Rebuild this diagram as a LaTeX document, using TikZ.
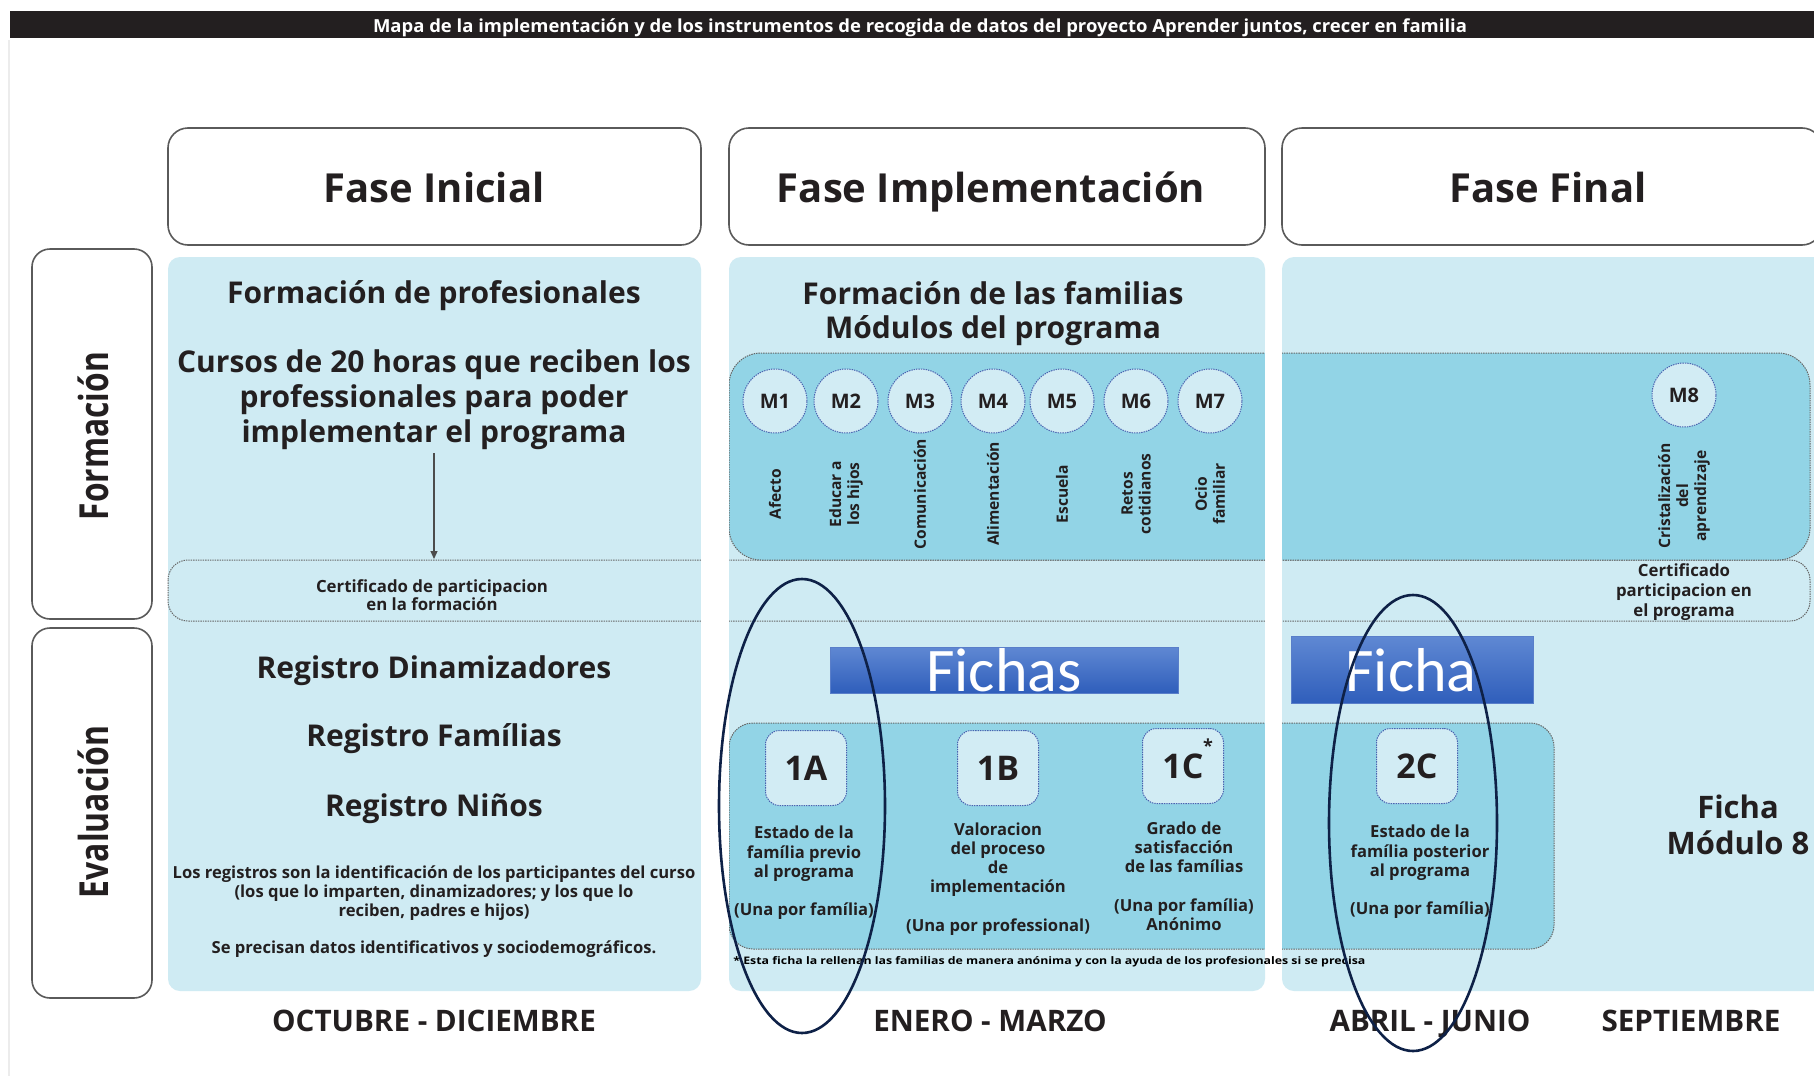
\documentclass[tikz,border=0pt]{standalone}
\usepackage{fontspec}
\setmainfont{Open Sans}
\newfontfamily\carlito{Carlito}
\usetikzlibrary{arrows.meta}
\definecolor{lightp}{HTML}{CFEBF3}
\definecolor{darkp}{HTML}{92D4E6}
\definecolor{circf}{HTML}{D2ECF4}
\definecolor{navy}{HTML}{0E2147}
\definecolor{txt}{HTML}{231F20}
\definecolor{fichatop}{HTML}{5F88D3}
\definecolor{fichabot}{HTML}{2F5EBB}
\definecolor{dotblue}{HTML}{4A63B0}
\definecolor{edgegray}{HTML}{5A5A5A}
\tikzset{
  phasebox/.style={draw=edgegray, line width=0.8pt, fill=white, rounded corners=10pt},
  panel/.style={fill=lightp, rounded corners=6pt},
  dotline/.style={draw=gray!80!black, line width=0.5pt, dash pattern=on 0.7pt off 0.5pt},
  modcirc/.style={circle, fill=circf, draw=dotblue, line width=0.5pt, dash pattern=on 0.7pt off 0.5pt, minimum size=32pt, inner sep=0pt, font=\bfseries\fontsize{10}{12}\selectfont, text=txt},
  fbox/.style={rectangle, rounded corners=7pt, fill=circf, draw=dotblue, line width=0.5pt, dash pattern=on 0.7pt off 0.5pt, minimum width=40.5pt, minimum height=37.5pt, inner sep=0pt, font=\bfseries\fontsize{17}{20}\selectfont, text=txt},
  vlab/.style={rotate=90, align=center, font=\bfseries\fontsize{7.8}{9}\selectfont, text=txt, inner sep=0pt},
  desc/.style={align=center, font=\bfseries\fontsize{8.3}{9.6}\selectfont, text=txt, inner sep=0pt},
  big/.style={font=\bfseries\fontsize{15}{17}\selectfont, text=txt, align=center, inner sep=0pt},
  hdr/.style={font=\bfseries\fontsize{20}{24}\selectfont, text=txt, inner sep=0pt},
  month/.style={font=\bfseries\fontsize{14.8}{17}\selectfont, text=txt, inner sep=0pt, anchor=base},
  blue box/.style={rectangle, top color=fichatop, bottom color=fichabot, draw=fichabot!80, line width=0.3pt, inner sep=0pt},
  fichatext/.style={font=\carlito\fontsize{31}{31}\selectfont, text=white, inner sep=0pt},
  ring/.style={draw=navy, line width=1.3pt},
}
\begin{document}
\begin{tikzpicture}[x=0.5pt,y=-0.5pt]
\useasboundingbox (0,0) rectangle (1814,1076);
\fill[white] (0,0) rectangle (1814,1076);
\draw[gray!15, line width=0.6pt] (9,40) -- (9,1076);
% title bar
\fill[txt] (10,11) rectangle (1814,38);
\node[text=white, inner sep=0pt] (title) at (920,27.5) {\resizebox{547pt}{\height}{\bfseries\fontsize{9}{10}\selectfont Mapa de la implementación y de los instrumentos de recogida de datos del proyecto Aprender juntos, crecer en familia}};
% phase headers
\node[phasebox, minimum width=266.5pt, minimum height=58.5pt] (ph1) at (434.5,186.5) {};
\node[phasebox, minimum width=268pt, minimum height=58.5pt] (ph2) at (997,186.5) {};
\node[phasebox, minimum width=270pt, minimum height=58.5pt] (ph3) at (1552,186.5) {};
\node[hdr, anchor=base] (ph1t) at (434,202) {Fase Inicial};
\node[hdr, anchor=base] (ph2t) at (991,202) {Fase Implementación};
\node[hdr, anchor=base] (ph3t) at (1548,202) {Fase Final};
% row labels
\node[phasebox, rounded corners=9pt, minimum width=60pt, minimum height=185pt] (rowf) at (92,434) {};
\node[phasebox, rounded corners=9pt, minimum width=60pt, minimum height=185pt] (rowe) at (92,813) {};
\node[hdr, rotate=90] (rowft) at (93,436) {\resizebox{84pt}{\height}{Formación}};
\node[hdr, rotate=90] (rowet) at (93,812) {\resizebox{86pt}{\height}{Evaluación}};
% panels
\path[panel] (168,257) rectangle (701,991);
\path[panel] (729,257) rectangle (1265,991);
\path[panel] (1282,257) rectangle (1830,991);
% certificado band
\path[dotline, rounded corners=10pt] (168,560) rectangle (1810,621);
% module band
\path[dotline, fill=darkp, rounded corners=16pt] (729,353) rectangle (1810,560);
% evaluation band
\path[dotline, fill=darkp, rounded corners=12pt] (729,723) rectangle (1554,949);
% gaps between panels
\fill[white] (701,330) rectangle (729,970);
\fill[white] (1265,330) rectangle (1282,970);
% panel 1 content
\node[big] (fp) at (434,295.5) {Formación de profesionales};
\node[big, font=\bfseries\fontsize{15}{17.5}\selectfont] (cursos) at (434,399.5) {Cursos de 20 horas que reciben los\\professionales para poder\\implementar el programa};
\coordinate (certtop) at (434,559);
\draw[-{Triangle[length=4pt,width=3.5pt]}, gray!60!black, line width=0.6pt] (434,453) -- (certtop);
\node[desc, font=\bfseries\fontsize{8.4}{9}\selectfont] (cert1) at (432,595) {Certificado de participacion\\en la formación};
\node[big] (rd) at (434,670.5) {Registro Dinamizadores};
\node[big] (rf) at (434,739) {Registro Famílias};
\node[big] (rn) at (434,808.5) {Registro Niños};
\node[desc, font=\bfseries\fontsize{8.3}{9.6}\selectfont] (par) at (434,893) {Los registros son la identificación de los participantes del curso\\(los que lo imparten, dinamizadores; y los que lo\\reciben, padres e hijos)};
\node[desc, font=\bfseries\fontsize{8.3}{9.6}\selectfont] (par2) at (434,949) {Se precisan datos identificativos y sociodemográficos.};
% panel 2 content
\node[big] (ff) at (993,313.5) {Formación de las familias\\Módulos del programa};
\node[modcirc] (m1) at (775,401) {M1};
\node[modcirc] (m2) at (846,401) {M2};
\node[modcirc] (m3) at (920,401) {M3};
\node[modcirc] (m4) at (993,401) {M4};
\node[modcirc] (m5) at (1062,401) {M5};
\node[modcirc] (m6) at (1136,401) {M6};
\node[modcirc] (m7) at (1210,401) {M7};
\node[vlab] (l1) at (775,494) {Afecto};
\node[vlab] (l2) at (846,494) {Educar a\\los hijos};
\node[vlab] (l3) at (920,494) {Comunicación};
\node[vlab] (l4) at (993,494) {Alimentación};
\node[vlab] (l5) at (1062,494) {Escuela};
\node[vlab] (l6) at (1136,494) {Retos\\cotidianos};
\node[vlab] (l7) at (1210,494) {Ocio\\familiar};
\node[blue box, minimum width=174pt, minimum height=23pt] (fichas) at (1004,670) {};
\node[fichatext] (fichast) at (1004,670) {Fichas};
\node[fbox] (b1a) at (806,768) {1A};
\node[fbox] (b1b) at (998,768) {1B};
\node[fbox] (b1c) at (1183,766) {1C};
\node[inner sep=0pt, font=\bfseries\fontsize{9}{9}\selectfont, text=txt] (ast) at (1208,746) {*};
\node[desc] (d1a) at (804,873) {Estado de la\\família previo\\al programa\\[9.6pt](Una por família)};
\node[desc] (d1b) at (998,879) {Valoracion\\del proceso\\de\\implementación\\[9.6pt](Una por professional)};
\node[desc] (d1c) at (1184,876) {Grado de\\satisfacción\\de las famílias\\[9.6pt](Una por família)\\Anónimo};
\node[inner sep=0pt, anchor=west] (foot) at (733,962) {\resizebox{316pt}{\height}{\bfseries\fontsize{5.2}{6}\selectfont * Esta ficha la rellenan las familias de manera anónima y con la ayuda de los profesionales si se precisa}};
% panel 3 content
\node[modcirc] (m8) at (1684,395) {M8};
\node[vlab] (l8) at (1684,496) {Cristalización\\del\\aprendizaje};
\node[desc, font=\bfseries\fontsize{8.4}{9.8}\selectfont] (cert2) at (1684,592) {Certificado\\participacion en\\el programa};
\node[blue box, minimum width=121pt, minimum height=33.5pt] (ficha) at (1412,670) {};
\node[fichatext] (fichat) at (1411,670) {Ficha};
\node[fbox] (b2c) at (1417,766) {2C};
\node[desc] (d2c) at (1420,872) {Estado de la\\família posterior\\al programa\\[9.6pt](Una por família)};
\node[big, font=\bfseries\fontsize{15.5}{18}\selectfont] (fm8) at (1738,825) {Ficha\\Módulo 8};
% months
\node[month] (mo1) at (434,1031) {OCTUBRE - DICIEMBRE};
\node[month] (mo2) at (990,1031) {ENERO - MARZO};
\node[month] (mo3) at (1430,1031) {ABRIL - JUNIO};
\node[month] (mo4) at (1691,1031) {SEPTIEMBRE};
% ellipses
\draw[ring] (802,806) ellipse [x radius=41.5pt, y radius=113.5pt];
\draw[ring] (1413,823) ellipse [x radius=42pt, y radius=114pt];
\end{tikzpicture}
\end{document}
